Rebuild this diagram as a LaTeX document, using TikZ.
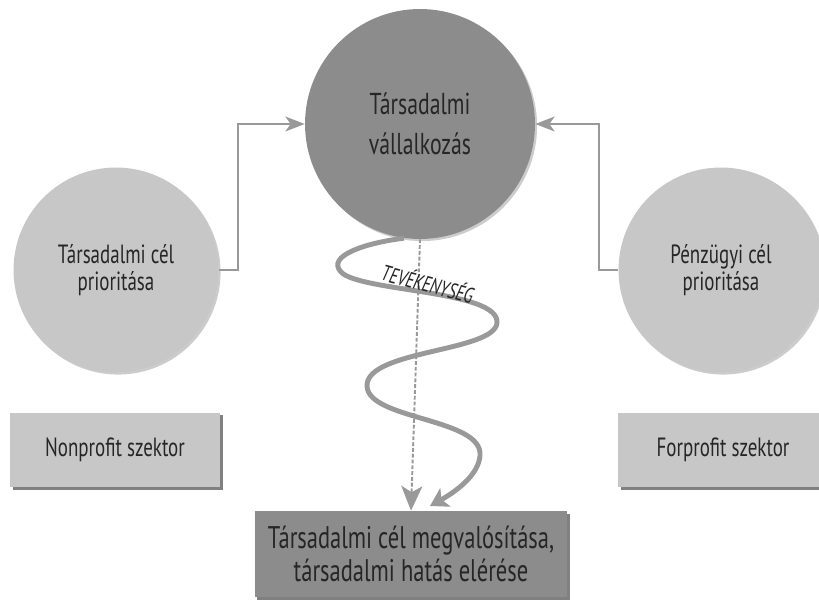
\documentclass[tikz,border=0pt]{standalone}
\usepackage{fontspec}
\setmainfont{PT Sans}[FakeStretch=0.72]
\usetikzlibrary{arrows.meta,shadows}

\begin{document}
\begin{tikzpicture}[x=0.02cm,y=-0.02cm]
    \colorlet{sotet}{black!45}
    \colorlet{vilagos}{black!22}
    \colorlet{vonal}{black!40}
    \colorlet{szoveg}{black!85}
    \tikzset{
        every node/.style={text=szoveg,align=center,inner sep=0pt},
        arnyek/.style={drop shadow={shadow xshift=1.2pt,shadow yshift=-1.2pt,fill=black,opacity=0.2}},
        dobozarnyek/.style={drop shadow={shadow xshift=1.6pt,shadow yshift=-1.6pt,fill=black!50,opacity=1}},
        kor/.style={circle,fill=vilagos,minimum size=4.1cm,arnyek,
            font=\fontsize{15}{15.5}\selectfont},
        nagykor/.style={circle,fill=sotet,minimum size=4.6cm,arnyek,
            font=\fontsize{17.2}{22.8}\selectfont},
        szektor/.style={fill=vilagos,minimum width=4.2cm,minimum height=1.5cm,dobozarnyek,
            font=\fontsize{15}{15.5}\selectfont},
        vezet/.style={draw=vonal,line width=0.85pt,
            -{Stealth[length=11pt,width=8.5pt,inset=3pt]}},
    }
    \useasboundingbox (0,0) rectangle (819,601);

    % korok
    \node[nagykor] (tv) at (420,124) {Társadalmi\\vállalkozás};
    \node[kor] (tarsc) at (116,270) {Társadalmi cél\\prioritása};
    \node[kor] (penzc) at (721,270) {Pénzügyi cél\\prioritása};

    % szektorok es a cel
    \node[szektor] (nonprofit) at (115,450) {Nonprofit szektor};
    \node[szektor] (forprofit) at (723,450) {Forprofit szektor};
    \node[fill=sotet,minimum width=6.26cm,minimum height=1.72cm,dobozarnyek,
        font=\fontsize{17.8}{18.5}\selectfont] (cel) at (411,554)
        {Társadalmi cél megvalósítása,\\társadalmi hatás elérése};

    % oldalso nyilak
    \draw[vezet] (tarsc.east) -- ++(19,0) |- (tv.west);
    \draw[vezet] (penzc.west) -- ++(-19,0) |- (tv.east);

    % egyenes ut
    \draw[vonal,line width=1.1pt,dash pattern=on 2.2pt off 1.1pt,
        -{Stealth[length=14pt,width=12pt,inset=3.5pt]}] (tv.south) -- (cel.north);

    % kanyargo tevekenyseg
    \draw[vonal,line width=2.8pt,-{Stealth[length=10pt,width=12pt,inset=2.5pt]}]
        (tv.262) .. controls (365,243) and (326,256) .. (341,272)
        .. controls (360,292) and (500,290) .. (497,323)
        .. controls (494,352) and (366,350) .. (367,386)
        .. controls (368,420) and (484,418) .. (480,456)
        .. controls (478,476) and (455,492) .. (430,506);
    \node[rotate=-15,font=\itshape\fontsize{12.5}{13}\selectfont] (tev) at (428,283) {TEVÉKENYSÉG};
\end{tikzpicture}
\end{document}
